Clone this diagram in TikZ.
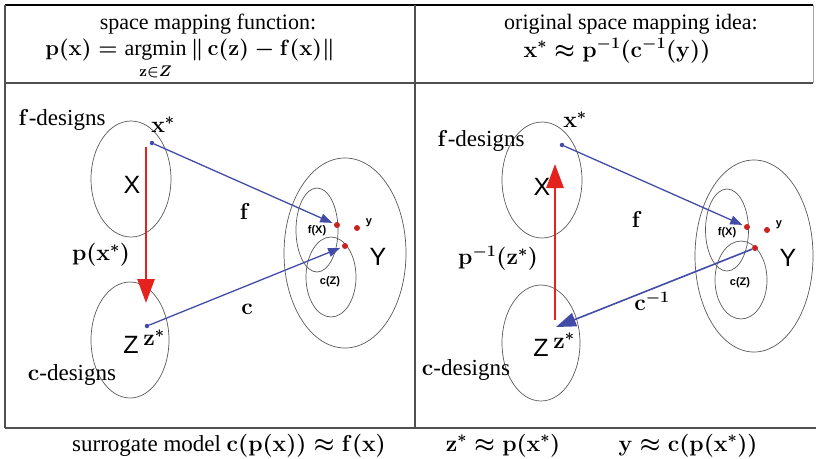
\documentclass[tikz,border=0pt]{standalone}
\usepackage{fix-cm}
\usepackage{amsmath}
\usepackage[no-math]{fontspec}
\setmainfont{Liberation Serif}
\newfontfamily\arialf{Liberation Sans}
\usetikzlibrary{shapes.geometric,arrows.meta}
\definecolor{blueC}{RGB}{66,76,168}
\definecolor{redA}{RGB}{228,34,30}
\definecolor{redD}{RGB}{200,35,30}
\definecolor{frameC}{RGB}{80,80,80}
\tikzset{
  ell/.style={draw=black!65, line width=0.7pt, ellipse, inner sep=0pt},
  bdot/.style={circle, fill=blueC, inner sep=0pt, minimum size=4.5pt},
  rdot/.style={circle, fill=redD, inner sep=0pt, minimum size=6pt},
  barrow/.style={draw=blueC, line width=1.3pt, -{Triangle[length=12pt,width=9pt]}},
  barrowbig/.style={draw=blueC, line width=1.6pt, -{Triangle[length=20pt,width=14pt]}},
  rarrow/.style={draw=redA, line width=2.8pt, -{Triangle[length=24pt,width=17pt]}},
  big/.style={inner sep=0pt, font=\arialf\fontsize{25}{28}\selectfont},
  small/.style={inner sep=0pt, font=\arialf\bfseries\fontsize{11}{13}\selectfont},
  lab/.style={inner sep=0pt, font=\boldmath\fontsize{23}{26}\selectfont},
  txt/.style={inner sep=0pt, font=\boldmath\fontsize{23}{26}\selectfont},
  head/.style={inner sep=0pt, anchor=base, font=\fontsize{22}{26}\selectfont},
  headm/.style={inner sep=0pt, anchor=base, font=\boldmath\fontsize{22}{26}\selectfont},
  foot/.style={inner sep=0pt, anchor=base, font=\boldmath\fontsize{23}{26}\selectfont},
  frame/.style={draw=frameC, line width=1.1pt},
}
\newcommand{\argminop}{\mathop{\hbox{argmin}}\limits}
\begin{document}
\begin{tikzpicture}[x=1pt,y=-1pt]
\useasboundingbox (0,0) rectangle (816,458);
% frame
\coordinate (tl) at (5,5);
\coordinate (tr) at (813,5);
\coordinate (ml) at (5,83);
\coordinate (mr) at (813,83);
\coordinate (bl) at (5,428);
\coordinate (br) at (816,428);
\coordinate (dt) at (415,5);
\coordinate (db) at (415,428);
\draw[draw=black, line width=1.5pt] (tl) -- (tr);
\draw[frame] (ml) -- (mr);
\draw[frame] (tl) -- (bl);
\draw[frame] (bl) -- (br);
\draw[frame] (dt) -- (db);
\draw[draw=black!35, line width=0.8pt] (tr) -- (mr);
% headers
\node[head] (h1) at (208,29) {space mapping function:};
\node[headm] (h1f) at (190,55) {$\displaystyle \mathbf{p}(\mathbf{x}) = \argminop_{\lower4pt\hbox{$\scriptstyle\mathbf{z}\in Z$}} \|\,\mathbf{c}(\mathbf{z}) - \mathbf{f}(\mathbf{x})\|$};
\node[head] (h2) at (631,29) {original space mapping idea:};
\node[headm, font=\boldmath\fontsize{23}{26}\selectfont] (h2f) at (617,57) {$\mathbf{x}^* \approx \mathbf{p}^{-1}(\mathbf{c}^{-1}(\mathbf{y}))$};
% bottom
\node[foot] (b1) at (229,451) {surrogate model $\mathbf{c}(\mathbf{p}(\mathbf{x})) \approx \mathbf{f}(\mathbf{x})$};
\node[foot] (b2) at (503,451) {$\mathbf{z}^* \approx \mathbf{p}(\mathbf{x}^*)$};
\node[foot] (b3) at (688,451) {$\mathbf{y} \approx \mathbf{c}(\mathbf{p}(\mathbf{x}^*))$};

% ===== left panel =====
\node[ell, minimum width=80pt, minimum height=116pt] (X) at (131,179) {};
\node[ell, minimum width=78pt, minimum height=116pt] (Z) at (130,340) {};
\node[ell, minimum width=122pt, minimum height=190pt] (Y) at (345,253) {};
\node[ell, minimum width=42pt, minimum height=84pt] (FX) at (317,230) {};
\node[ell, minimum width=50pt, minimum height=80pt] (CZ) at (331,277) {};
\node[txt] (fdes) at (62,120) {$\mathbf{f}$-designs};
\node[txt] (cdes) at (72,375) {$\mathbf{c}$-designs};
\node[big] (Xl) at (132,185) {X};
\node[big] (Zl) at (131,345) {Z};
\node[big] (Yl) at (378,257) {Y};
\node[lab] (xsl) at (163,125) {$\mathbf{x}^*$};
\node[lab] (zsl) at (154,338) {$\mathbf{z}^*$};
\node[lab] (pl) at (101,255) {$\mathbf{p}(\mathbf{x}^*)$};
\node[lab] (fl) at (245,212) {$\mathbf{f}$};
\node[lab] (cl) at (247,309) {$\mathbf{c}$};
\node[small] (fxl) at (317,231) {f(X)};
\node[small] (czl) at (330,282) {c(Z)};
\node[small] (yl) at (369,223) {y};
\node[bdot] (xs) at (152,143) {};
\node[bdot] (zs) at (147,326) {};
\node[rdot] (fx) at (337,225) {};
\node[rdot] (yy) at (357,228) {};
\node[rdot] (cz) at (345,246) {};
\coordinate (ra1) at (146,147);
\coordinate (ra2) at (146,303);
\draw[rarrow] (ra1) -- (ra2);
\draw[barrow, shorten >=2pt] (xs) -- (fx);
\draw[barrow, shorten >=2pt] (zs) -- (cz);

% ===== right panel =====
\node[ell, minimum width=80pt, minimum height=116pt] (X2) at (542,180) {};
\node[ell, minimum width=78pt, minimum height=116pt] (Z2) at (541,343) {};
\node[ell, minimum width=118pt, minimum height=192pt] (Y2) at (754,256) {};
\node[ell, minimum width=43pt, minimum height=82pt] (FX2) at (727,230) {};
\node[ell, minimum width=52pt, minimum height=78pt] (CZ2) at (741,280) {};
\node[txt] (fdes2) at (481,141) {$\mathbf{f}$-designs};
\node[txt] (cdes2) at (466,370) {$\mathbf{c}$-designs};
\node[big] (Xl2) at (542,187) {X};
\node[big] (Zl2) at (541,348) {Z};
\node[big] (Yl2) at (788,258) {Y};
\node[lab] (xsl2) at (575,120) {$\mathbf{x}^*$};
\node[lab] (zsl2) at (564,341) {$\mathbf{z}^*$};
\node[lab] (pl2) at (498,258) {$\mathbf{p}^{-1}(\mathbf{z}^*)$};
\node[lab] (fl2) at (637,220) {$\mathbf{f}$};
\node[lab] (cl2) at (652,301) {$\mathbf{c}^{-1}$};
\node[small] (fxl2) at (727,233) {f(X)};
\node[small] (czl2) at (740,283) {c(Z)};
\node[small] (yl2) at (779,225) {y};
\node[bdot] (xs2) at (562,145) {};
\coordinate (zs2) at (556,327);
\node[rdot] (fx2) at (747,227) {};
\node[rdot] (yy2) at (767,230) {};
\node[rdot] (cz2) at (755,248) {};
\coordinate (rb1) at (555,320);
\coordinate (rb2) at (555,164);
\draw[rarrow] (rb1) -- (rb2);
\draw[barrow, shorten >=2pt] (xs2) -- (fx2);
\draw[barrowbig] (cz2) -- (zs2);
\end{tikzpicture}
\end{document}
